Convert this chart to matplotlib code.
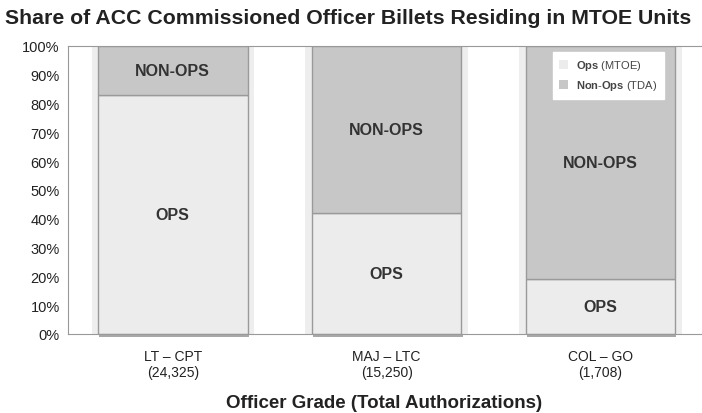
import matplotlib
matplotlib.use("Agg")
import matplotlib.pyplot as plt
from matplotlib.patches import Patch
import numpy as np

plt.rcParams['font.family'] = ['Liberation Sans', 'DejaVu Sans']
plt.rcParams['mathtext.fontset'] = 'custom'
plt.rcParams['mathtext.bf'] = 'Liberation Sans:bold'
plt.rcParams['mathtext.rm'] = 'Liberation Sans'

categories = ["LT \u2013 CPT\n(24,325)", "MAJ \u2013 LTC\n(15,250)", "COL \u2013 GO\n(1,708)"]
ops = [83, 42, 19]
non_ops = [17, 58, 81]
yticks = list(range(0, 101, 10))

W, H = 702, 414
fig = plt.figure(figsize=(W / 100, H / 100), dpi=100)
ax = fig.add_axes([68 / W, (H - 335) / H, (701 - 68) / W, (335 - 47) / H])

x = np.arange(len(categories))
ax.set_facecolor('white')
# subtle background columns behind bars
for xi in x:
    ax.axvspan(xi - 0.38, xi + 0.38, color='#eeeeee', zorder=0, lw=0)

ops_color = '#ececec'
non_color = '#c7c7c7'
edge = '#9a9a9a'
# drop shadow under bars
ax.bar(x + 0.005, [0.9] * len(x), width=0.7, bottom=-0.9, color='#a8a8a8',
       linewidth=0, zorder=1, clip_on=False)
b1 = ax.bar(x, ops, width=0.7, color=ops_color, edgecolor=edge, linewidth=1.0, zorder=2)
b2 = ax.bar(x, non_ops, width=0.7, bottom=ops, color=non_color, edgecolor=edge, linewidth=1.0, zorder=2)

for xi, o, n in zip(x, ops, non_ops):
    ax.text(xi, o / 2, "OPS", ha='center', va='center', fontsize=11.5,
            fontweight='bold', color='#333333', zorder=3)
    ax.text(xi, o + n / 2, "NON-OPS", ha='center', va='center', fontsize=11.5,
            fontweight='bold', color='#333333', zorder=3)

ax.set_xlim(-0.49, 2.47)
ax.set_ylim(0, 100)
ax.set_yticks(yticks)
ax.set_yticklabels([f"{t}%" for t in yticks], fontsize=10.5, color='#222222')
ax.set_xticks(x)
ax.set_xticklabels(categories, fontsize=10, color='#222222', linespacing=1.15)
ax.tick_params(axis='both', length=0, pad=6)
ax.tick_params(axis='x', pad=11)

for s in ['left', 'top', 'bottom']:
    ax.spines[s].set_color('#999999')
    ax.spines[s].set_linewidth(0.8)
ax.spines['right'].set_visible(False)

ax.set_xlabel("Officer Grade (Total Authorizations)", fontsize=13.5, fontweight='bold',
              color='#222222', labelpad=11)
fig.text(5 / W, 1 - 18 / H, "Share of ACC Commissioned Officer Billets Residing in MTOE Units",
         fontsize=15.3, fontweight='bold', color='#222222', ha='left', va='center')

handles = [Patch(facecolor=ops_color, edgecolor='none'), Patch(facecolor=non_color, edgecolor='none')]
labels = [r"$\mathbf{Ops}$ (MTOE)", r"$\mathbf{Non}$-$\mathbf{Ops}$ (TDA)"]
leg = ax.legend(handles, labels, loc='upper right', bbox_to_anchor=(0.95, 1.0),
                fontsize=8, frameon=True, fancybox=False, framealpha=1,
                edgecolor='white', handlelength=0.8, handleheight=0.8,
                borderpad=0.6, labelspacing=0.55, handletextpad=0.7)
for t in leg.get_texts():
    t.set_color('#444444')
leg.set_zorder(5)

fig.savefig("out.png", dpi=100)
